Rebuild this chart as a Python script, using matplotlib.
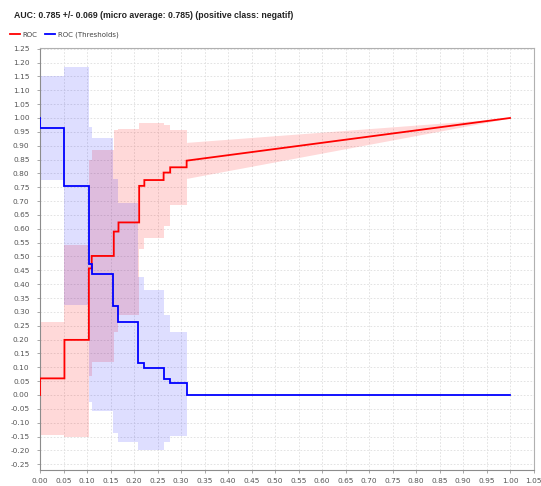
import numpy as np
import matplotlib
matplotlib.use("Agg")
import matplotlib.pyplot as plt
from matplotlib.lines import Line2D

# ---- data ----
# ROC mean curve: step segments (start x, level), band bounds per segment
roc_x = [0.0, 0.052, 0.104, 0.110, 0.157, 0.167, 0.211, 0.222, 0.263, 0.277, 0.312]
roc_y = [0.060, 0.199, 0.457, 0.502, 0.590, 0.623, 0.755, 0.776, 0.803, 0.822, 0.846]
roc_lo = [-0.145, -0.150, 0.070, 0.120, 0.229, 0.290, 0.527, 0.566, 0.610, 0.686, 0.782]
roc_hi = [0.262, 0.540, 0.850, 0.884, 0.955, 0.960, 0.983, 0.983, 0.975, 0.957, 0.912]
roc_start = 0.0
roc_end = (1.0, 1.0)

# ROC (Thresholds) curve
thr_x = [0.0, 0.052, 0.104, 0.110, 0.156, 0.167, 0.209, 0.222, 0.264, 0.277, 0.313]
thr_y = [0.963, 0.755, 0.472, 0.435, 0.321, 0.262, 0.114, 0.096, 0.058, 0.042, 0.0]
thr_lo = [0.775, 0.325, -0.025, -0.059, -0.138, -0.168, -0.199, -0.199, -0.168, -0.148, 0.0]
thr_hi = [1.152, 1.185, 0.969, 0.929, 0.780, 0.692, 0.427, 0.379, 0.289, 0.226, 0.0]
thr_start = 1.0
thr_end_x = 1.0

title = "AUC: 0.785 +/- 0.069 (micro average: 0.785) (positive class: negatif)"
legend_labels = ["ROC", "ROC (Thresholds)"]
x_ticks = [round(0.05 * i, 2) for i in range(22)]
y_ticks = [round(-0.25 + 0.05 * i, 2) for i in range(31)]

RED = "#ff0000"
BLUE = "#0000ff"

fig = plt.figure(figsize=(5.41, 4.86), dpi=100)
ax = fig.add_axes([40 / 541, 1 - 470 / 486, (533.5 - 40) / 541, (470 - 48) / 486])


def step_band(xs, lo, hi):
    """x edges and repeated last value for a post-step fill."""
    return list(xs), list(lo) + [lo[-1]], list(hi) + [hi[-1]]


# ---- red: ROC ----
n = len(roc_x)
ex, elo, ehi = step_band(roc_x, roc_lo[:-2], roc_hi[:-2])
ax.fill_between(roc_x, roc_lo[:-1] + [roc_lo[-2]], roc_hi[:-1] + [roc_hi[-2]],
                step="post", color=RED, alpha=0.15, lw=0)
ax.fill_between([roc_x[-1], roc_end[0]], [roc_lo[-1], roc_end[1]], [roc_hi[-1], roc_end[1]],
                color=RED, alpha=0.15, lw=0)
px = [0.0]
py = [roc_start]
for i in range(n):
    px.append(roc_x[i]); py.append(roc_y[i])
    if i + 1 < n:
        px.append(roc_x[i + 1]); py.append(roc_y[i])
px.append(roc_end[0]); py.append(roc_end[1])
ax.plot(px, py, color=RED, lw=1.3, solid_joinstyle="miter", zorder=5)

# ---- blue: thresholds ----
m = len(thr_x)
ax.fill_between(thr_x, thr_lo[:-1] + [thr_lo[-2]], thr_hi[:-1] + [thr_hi[-2]],
                step="post", color=BLUE, alpha=0.13, lw=0)
bx = [0.0]
by = [thr_start]
for i in range(m):
    bx.append(thr_x[i]); by.append(thr_y[i])
    nx = thr_x[i + 1] if i + 1 < m else thr_end_x
    bx.append(nx); by.append(thr_y[i])
ax.plot(bx, by, color=BLUE, lw=1.3, solid_joinstyle="miter", zorder=5)

# ---- axes styling ----
ax.set_xlim(0, 1.05)
ax.set_ylim(-0.2708, 1.2527)
ax.set_xticks(x_ticks)
ax.set_yticks(y_ticks)
ax.set_xticklabels([f"{v:.2f}" for v in x_ticks])
ax.set_yticklabels([f"{v:.2f}" for v in y_ticks])
ax.tick_params(axis="both", labelsize=5.3, colors="#9a9a9a", labelcolor="#555555",
               length=2.5, width=0.6)
ax.tick_params(axis="y", pad=5)
ax.tick_params(axis="x", pad=3)
ax.grid(True, color="#dedede", lw=0.6, ls=(0, (2, 2)))
ax.set_axisbelow(True)
for s in ax.spines.values():
    s.set_color("#b0b0b0")
    s.set_linewidth(0.8)
ax.spines["left"].set_color("#8c8c8c")
ax.spines["bottom"].set_color("#8c8c8c")

fig.text(14 / 541, 1 - 15 / 486, title, fontsize=6.3, fontweight="bold",
         family="Liberation Sans", ha="left", va="center", color="#222222")

handles = [Line2D([], [], color=RED, lw=1.3), Line2D([], [], color=BLUE, lw=1.3)]
fig.legend(handles, legend_labels, loc="center left",
           bbox_to_anchor=(10 / 541, 1 - 35 / 486), ncol=2, frameon=False,
           fontsize=5, handlelength=1.45, handletextpad=0.35, columnspacing=1.1,
           borderpad=0, borderaxespad=0, labelcolor="#444444")

fig.savefig("out.png", dpi=100)
